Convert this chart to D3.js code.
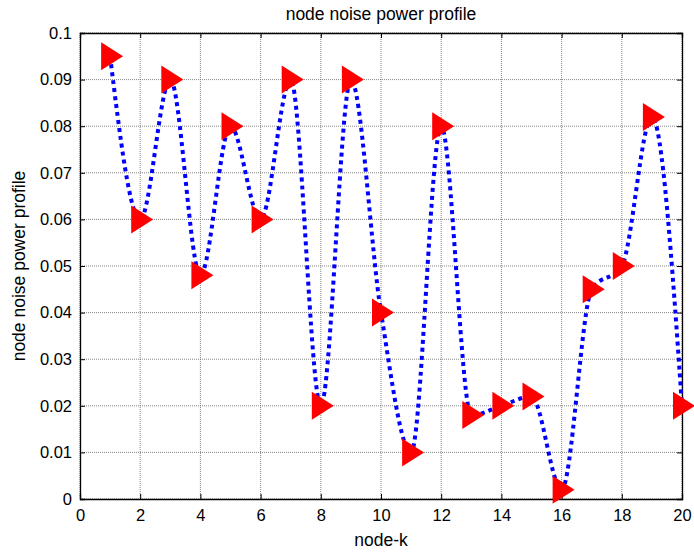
<!DOCTYPE html>
<html>
<head>
<meta charset="utf-8">
<script src="https://cdn.jsdelivr.net/npm/d3@7"></script>
<style>
  html, body { margin: 0; padding: 0; background: #fff; }
  svg { display: block; font-family: "Liberation Sans", Arial, sans-serif; }
</style>
</head>
<body>
<svg id="chart" width="694" height="554"></svg>
<script>
// Node index and measured noise power per node
const nodes = [1, 2, 3, 4, 5, 6, 7, 8, 9, 10, 11, 12, 13, 14, 15, 16, 17, 18, 19, 20];
const noisePower = [0.095, 0.06, 0.09, 0.048, 0.08, 0.06, 0.09, 0.02, 0.09, 0.04,
                    0.01, 0.08, 0.018, 0.02, 0.022, 0.002, 0.045, 0.05, 0.082, 0.02];
const xTicks = [0, 2, 4, 6, 8, 10, 12, 14, 16, 18, 20];
const yTicks = [0, 0.01, 0.02, 0.03, 0.04, 0.05, 0.06, 0.07, 0.08, 0.09, 0.1];

const svg = d3.select("#chart");
const plotL = 80, plotR = 682, plotT = 33, plotB = 499;

const x = d3.scaleLinear().domain([0, 20]).range([plotL, plotR]);
const y = d3.scaleLinear().domain([0, 0.1]).range([plotB, plotT]);

// grid
const grid = svg.append("g");
grid.selectAll("line.gx").data(xTicks).join("line")
  .attr("x1", d => x(d)).attr("x2", d => x(d))
  .attr("y1", plotT).attr("y2", plotB)
  .attr("stroke", "#666").attr("stroke-width", 0.8).attr("stroke-dasharray", "1,1");
grid.selectAll("line.gy").data(yTicks).join("line")
  .attr("y1", d => y(d)).attr("y2", d => y(d))
  .attr("x1", plotL).attr("x2", plotR)
  .attr("stroke", "#666").attr("stroke-width", 0.8).attr("stroke-dasharray", "1,1");

// axes (ticks pointing inward, boxed frame)
const fmtY = d => d === 0 ? "0" : String(+d.toFixed(2));
const axL = svg.append("g").attr("transform", `translate(${plotL},0)`)
  .call(d3.axisLeft(y).tickValues(yTicks).tickSize(-5).tickPadding(8).tickFormat(fmtY));
const axB = svg.append("g").attr("transform", `translate(0,${plotB})`)
  .call(d3.axisBottom(x).tickValues(xTicks).tickSize(-5).tickPadding(10).tickFormat(d3.format("d")));
const axT = svg.append("g").attr("transform", `translate(0,${plotT})`)
  .call(d3.axisTop(x).tickValues(xTicks).tickSize(-5).tickFormat(""));
const axR = svg.append("g").attr("transform", `translate(${plotR},0)`)
  .call(d3.axisRight(y).tickValues(yTicks).tickSize(-5).tickFormat(""));

[axL, axB, axT, axR].forEach(g => {
  g.select(".domain").attr("stroke", "#000").attr("stroke-width", 1.3);
  g.selectAll(".tick line").attr("stroke", "#000");
  g.selectAll("text").attr("font-size", 16.5).attr("fill", "#000")
    .attr("font-family", "Liberation Sans, Arial, sans-serif");
});

// smooth dotted profile line
const line = d3.line()
  .x((d, i) => x(nodes[i]))
  .y(d => y(d))
  .curve(d3.curveMonotoneX);
svg.append("path")
  .datum(noisePower)
  .attr("d", line)
  .attr("fill", "none")
  .attr("stroke", "#0000ff")
  .attr("stroke-width", 4)
  .attr("stroke-dasharray", "4,4");

// right-pointing triangle markers
svg.selectAll("path.marker").data(noisePower).join("path")
  .attr("class", "marker")
  .attr("transform", (d, i) => `translate(${x(nodes[i])},${y(d)})`)
  .attr("d", "M-9,-14 L-9,14 L13,0 Z")
  .attr("fill", "#ff0000");

// labels
svg.append("text").attr("x", (plotL + plotR) / 2).attr("y", 20)
  .attr("text-anchor", "middle").attr("font-size", 17.5).text("node noise power profile");
svg.append("text").attr("x", (plotL + plotR) / 2).attr("y", 546)
  .attr("text-anchor", "middle").attr("font-size", 17.5).text("node-k");
svg.append("text")
  .attr("transform", `translate(25,${(plotT + plotB) / 2}) rotate(-90)`)
  .attr("text-anchor", "middle").attr("font-size", 17.5).text("node noise power profile");
</script>
</body>
</html>
